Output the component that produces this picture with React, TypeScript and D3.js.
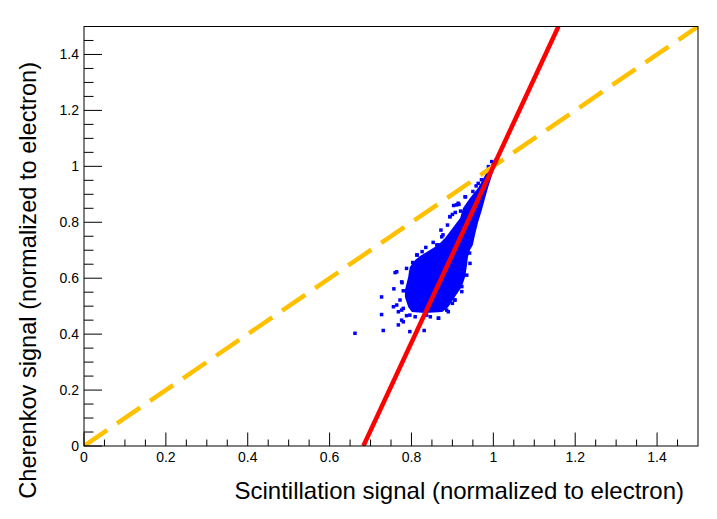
import React, { useEffect, useRef } from 'react';
import * as d3 from 'd3';

// axis ranges and ticks
const xDomain: [number, number] = [0, 1.5];
const yDomain: [number, number] = [0, 1.5];
const majorTicks = [0, 0.2, 0.4, 0.6, 0.8, 1, 1.2, 1.4];
const minorTicks = d3.range(0, 30).map((i) => i * 0.05);

// dense core of the scatter (outline, data units)
const coreOutline: [number, number][] = [
  [1.004, 1.03], [0.98, 0.969], [0.963, 0.923], [0.943, 0.887], [0.926, 0.851],
  [0.919, 0.815], [0.901, 0.78], [0.882, 0.744], [0.865, 0.719], [0.845, 0.701],
  [0.821, 0.679], [0.809, 0.665], [0.796, 0.64], [0.792, 0.604], [0.784, 0.558],
  [0.784, 0.533], [0.792, 0.497], [0.801, 0.479], [0.833, 0.476], [0.875, 0.479],
  [0.89, 0.497], [0.906, 0.533], [0.923, 0.569], [0.931, 0.604], [0.935, 0.64],
  [0.938, 0.676], [0.943, 0.701], [0.95, 0.719], [0.955, 0.754], [0.963, 0.801],
  [0.972, 0.844], [0.98, 0.887], [0.987, 0.923], [0.997, 0.969], [1.007, 1.015],
];

// sparse events around the core
const sparsePoints: [number, number][] = [
  [0.662, 0.403], [0.731, 0.413], [0.727, 0.47], [0.727, 0.533], [0.757, 0.562],
  [0.76, 0.62], [0.777, 0.584], [0.78, 0.555], [0.756, 0.498], [0.764, 0.504],
  [0.768, 0.48], [0.776, 0.486], [0.78, 0.444], [0.768, 0.433], [0.796, 0.409],
  [0.831, 0.413], [0.866, 0.457], [0.886, 0.486], [0.906, 0.522], [0.923, 0.57],
  [0.814, 0.683], [0.803, 0.656], [0.796, 0.576], [0.788, 0.466], [0.809, 0.462],
  [0.805, 0.534], [0.809, 0.588], [0.874, 0.748], [0.866, 0.719], [0.894, 0.82],
  [0.91, 0.862], [0.914, 0.868], [0.931, 0.891], [0.939, 0.862], [0.963, 0.939],
  [0.988, 0.999], [0.996, 1.017], [0.764, 0.623], [0.776, 0.587], [0.772, 0.522],
  [0.78, 0.492], [0.776, 0.45], [0.813, 0.683], [0.817, 0.647], [0.841, 0.671],
  [0.862, 0.719], [0.882, 0.731], [0.866, 0.457], [0.89, 0.48], [0.906, 0.522],
  [0.923, 0.552], [0.935, 0.611], [0.943, 0.653], [0.809, 0.498], [0.796, 0.468],
  [0.837, 0.468], [0.857, 0.492], [0.878, 0.504], [0.932, 0.891], [0.916, 0.864],
  [0.903, 0.86], [0.894, 0.82], [0.9, 0.828], [0.877, 0.755], [0.872, 0.772],
  [0.95, 0.91], [0.958, 0.93], [0.888, 0.79], [0.907, 0.835], [0.853, 0.728],
  [0.835, 0.71], [0.826, 0.695], [0.971, 0.952], [0.92, 0.84], [0.798, 0.62],
  [0.788, 0.635], [0.846, 0.462], [0.9, 0.51], [0.942, 0.69],
];

// reference lines
const diagonal: [number, number][] = [[0, 0], [1.5, 1.5]];
const fitLine: [number, number][] = [[0.6825, 0], [1.159, 1.5]];

const App: React.FC = () => {
  const svgRef = useRef<SVGSVGElement | null>(null);

  useEffect(() => {
    document.body.style.margin = '0';
    if (!svgRef.current) return;
    const svg = d3.select(svgRef.current);
    svg.selectAll('*').remove();

    const width = 717;
    const height = 519;
    const left = 84, right = 698, top = 26.5, bottom = 446;
    const font = 'Liberation Sans, Arial, sans-serif';

    svg.attr('width', width).attr('height', height);

    const x = d3.scaleLinear().domain(xDomain).range([left, right]);
    const y = d3.scaleLinear().domain(yDomain).range([bottom, top]);

    svg.append('rect').attr('width', width).attr('height', height).attr('fill', '#fff');

    svg.append('defs').append('clipPath').attr('id', 'frame')
      .append('rect').attr('x', left).attr('y', top)
      .attr('width', right - left).attr('height', bottom - top);

    const plot = svg.append('g').attr('clip-path', 'url(#frame)');

    const line = d3.line<[number, number]>().x((d) => x(d[0])).y((d) => y(d[1]));
    const area = d3.line<[number, number]>().x((d) => x(d[0])).y((d) => y(d[1]))
      .curve(d3.curveLinearClosed);

    // scatter core
    plot.append('path')
      .attr('d', area(coreOutline))
      .attr('fill', '#0000ff');

    const s = 3.5;
    plot.selectAll('rect.pt')
      .data(sparsePoints)
      .enter()
      .append('rect')
      .attr('class', 'pt')
      .attr('x', (d) => x(d[0]) - s / 2)
      .attr('y', (d) => y(d[1]) - s / 2)
      .attr('width', s)
      .attr('height', s)
      .attr('fill', '#0000ff');

    plot.append('path')
      .attr('d', line(diagonal))
      .attr('stroke', '#ffc000')
      .attr('stroke-width', 4.5)
      .attr('stroke-dasharray', '28 12')
      .attr('fill', 'none');

    plot.append('path')
      .attr('d', line(fitLine))
      .attr('stroke', '#ff0000')
      .attr('stroke-width', 4.5)
      .attr('fill', 'none');

    // frame
    svg.append('rect')
      .attr('x', left).attr('y', top)
      .attr('width', right - left).attr('height', bottom - top)
      .attr('fill', 'none').attr('stroke', '#000').attr('stroke-width', 1);

    const isMajor = (v: number) => Math.abs(Math.round(v * 5) - v * 5) < 1e-6;

    // x ticks
    svg.append('g').selectAll('line')
      .data(minorTicks)
      .enter()
      .append('line')
      .attr('x1', (d) => x(d)).attr('x2', (d) => x(d))
      .attr('y1', bottom)
      .attr('y2', (d) => bottom - (isMajor(d) ? 13.5 : 6.5))
      .attr('stroke', '#000');

    // y ticks
    svg.append('g').selectAll('line')
      .data(minorTicks)
      .enter()
      .append('line')
      .attr('y1', (d) => y(d)).attr('y2', (d) => y(d))
      .attr('x1', left)
      .attr('x2', (d) => left + (isMajor(d) ? 18 : 9.5))
      .attr('stroke', '#000');

    const fmt = (v: number) => (v === 0 ? '0' : v === 1 ? '1' : d3.format('.1f')(v));

    svg.append('g').selectAll('text')
      .data(majorTicks)
      .enter()
      .append('text')
      .attr('x', (d) => x(d))
      .attr('y', bottom + 15.5)
      .attr('text-anchor', 'middle')
      .style('font-family', font)
      .style('font-size', '14px')
      .text(fmt);

    svg.append('g').selectAll('text')
      .data(majorTicks)
      .enter()
      .append('text')
      .attr('x', left - 5)
      .attr('y', (d) => y(d) + 5)
      .attr('text-anchor', 'end')
      .style('font-family', font)
      .style('font-size', '14px')
      .text(fmt);

    // axis titles
    svg.append('text')
      .attr('x', 684)
      .attr('y', 499)
      .attr('text-anchor', 'end')
      .style('font-family', font)
      .style('font-size', '24px')
      .text('Scintillation signal (normalized to electron)');

    svg.append('text')
      .attr('transform', 'translate(36, 62) rotate(-90)')
      .attr('text-anchor', 'end')
      .style('font-family', font)
      .style('font-size', '23.6px')
      .text('Cherenkov signal (normalized to electron)');
  }, []);

  return (
    <div style={{ position: 'absolute', left: 0, top: 0 }}>
      <svg ref={svgRef}></svg>
    </div>
  );
};

export default App;
